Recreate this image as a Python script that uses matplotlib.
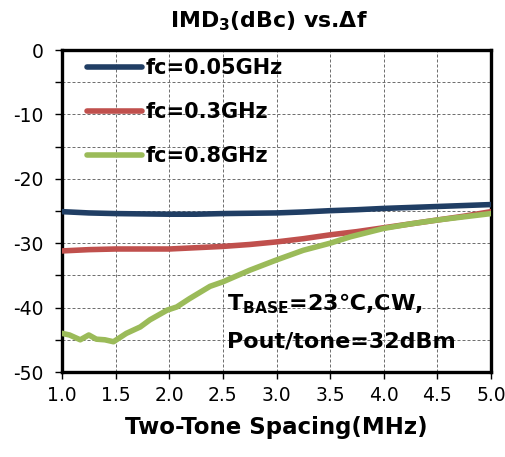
import matplotlib
matplotlib.use("Agg")
import matplotlib.pyplot as plt
from matplotlib.ticker import MultipleLocator

plt.rcParams['axes.unicode_minus'] = False

# ---- data ----
blue_x = [1.0, 1.25, 1.5, 1.75, 2.0, 2.25, 2.5, 2.75, 3.0, 3.25, 3.5, 3.75, 4.0, 4.25, 4.5, 4.75, 5.0]
blue_y = [-25.1, -25.3, -25.4, -25.45, -25.5, -25.5, -25.4, -25.35, -25.3, -25.15, -24.95, -24.8, -24.6, -24.45, -24.3, -24.15, -24.0]

red_x = [1.0, 1.25, 1.5, 1.75, 2.0, 2.25, 2.5, 2.75, 3.0, 3.25, 3.5, 3.75, 4.0, 4.25, 4.5, 4.75, 5.0]
red_y = [-31.2, -31.0, -30.9, -30.9, -30.9, -30.7, -30.5, -30.2, -29.8, -29.3, -28.7, -28.2, -27.6, -27.0, -26.4, -25.8, -25.1]

green_x = [1.0, 1.07, 1.17, 1.25, 1.32, 1.40, 1.48, 1.60, 1.73, 1.82, 1.98, 2.07, 2.19, 2.38, 2.50,
           2.75, 3.0, 3.25, 3.5, 3.69, 4.0, 4.25, 4.5, 4.75, 5.0]
green_y = [-44.0, -44.25, -45.0, -44.25, -44.9, -45.0, -45.3, -44.0, -43.0, -41.9, -40.4, -39.9, -38.6, -36.7, -36.0,
           -34.2, -32.6, -31.1, -30.0, -29.0, -27.7, -27.0, -26.4, -25.9, -25.4]

labels = ["fc=0.05GHz", "fc=0.3GHz", "fc=0.8GHz"]
colors = ["#203E64", "#C0504D", "#9BBB59"]

x_ticks = [1.0, 1.5, 2.0, 2.5, 3.0, 3.5, 4.0, 4.5, 5.0]
y_ticks = [0, -10, -20, -30, -40, -50]
y_grid = [-5, -10, -15, -20, -25, -30, -35, -40, -45]

fig = plt.figure(figsize=(5.05, 4.57), dpi=100)
ax = fig.add_axes([62/505, 1-372/457, (491-62)/505, (372-50)/457])

grid_style = dict(color='#707070', linestyle=(0, (3, 2)), linewidth=0.72, zorder=1)
for gx in x_ticks[1:-1]:
    ax.axvline(gx, **grid_style)
for gy in y_grid:
    ax.axhline(gy, **grid_style)

series = [(blue_x, blue_y), (red_x, red_y), (green_x, green_y)]
for (xs, ys), lab, c in zip(series, labels, colors):
    ax.plot(xs, ys, color=c, lw=4.0, label=lab, solid_capstyle='round', zorder=3)

ax.set_xlim(1.0, 5.0)
ax.set_ylim(-50, 0)
ax.set_xticks(x_ticks)
ax.set_xticklabels([f"{v:.1f}" for v in x_ticks])
ax.set_yticks(y_ticks)
ax.yaxis.set_minor_locator(MultipleLocator(5))

ax.tick_params(axis='both', which='both', direction='out', length=5, width=1, labelsize=13.5, pad=5)
ax.tick_params(axis='y', which='both', pad=8)
for s in ax.spines.values():
    s.set_linewidth(2.4)
    s.set_color('black')

ax.set_xlabel("Two-Tone Spacing(MHz)", fontsize=16.5, fontweight='bold', labelpad=8)

fig.text(0.532, 1-21/457, r'IMD$_\mathbf{3}$(dBc) vs.Δf', ha='center', va='center',
         fontsize=15.8, fontweight='bold')

leg = ax.legend(loc='upper left', bbox_to_anchor=(0.039, 1.0), borderaxespad=0, borderpad=0.4,
                frameon=False, handlelength=2.65, handletextpad=0.17,
                labelspacing=1.14, prop={'weight': 'bold', 'size': 15})

ax.text(2.54, -40.5, r'T$_{\mathbf{BASE}}$=23℃,CW,', fontsize=16, fontweight='bold', va='baseline')
ax.text(2.54, -46.2, 'Pout/tone=32dBm', fontsize=16, fontweight='bold', va='baseline')

fig.savefig("out.png", dpi=100)
